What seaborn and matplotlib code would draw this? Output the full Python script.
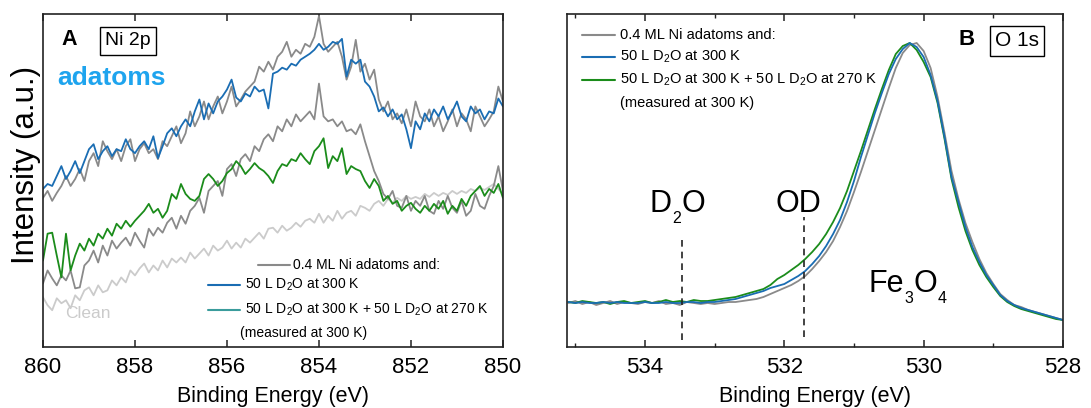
import numpy as np
import pandas as pd
import matplotlib
matplotlib.use("Agg")
import matplotlib.pyplot as plt
import seaborn as sns

# ---------------- Ni 2p region (panel A) ----------------
ni_energy = np.linspace(860.0, 850.0, 101)

ni_adatoms_top = [
    153, 160, 150, 158, 165, 175, 165, 172, 182, 170,
    190, 198, 185, 210, 200, 192, 202, 190, 205, 212,
    190, 202, 208, 198, 202, 192, 210, 205, 215, 225,
    208, 218, 240, 225, 235, 250, 232, 245, 255, 238,
    250, 265, 245, 252, 260, 265, 270, 285, 280, 290,
    282, 295, 300, 310, 295, 302, 298, 308, 305, 315,
    336, 308, 300, 305, 310, 295, 272, 285, 312, 280,
    288, 272, 282, 252, 240, 250, 232, 238, 228, 242,
    225, 250, 235, 230, 242, 225, 235, 220, 230, 242,
    225, 238, 232, 220, 245, 235, 225, 232, 240, 265,
    250,
]
ni_d2o_300 = [
    162, 167, 165, 175, 185, 172, 180, 190, 178, 190,
    202, 207, 192, 200, 205, 195, 202, 200, 212, 202,
    198, 205, 210, 202, 215, 193, 205, 218, 223, 215,
    225, 232, 225, 240, 252, 232, 248, 238, 250, 255,
    262, 272, 254, 250, 258, 255, 265, 260, 262, 243,
    278, 280, 284, 282, 288, 286, 292, 295, 298, 302,
    308, 302, 305, 310, 308, 313, 275, 292, 288, 292,
    270, 265, 255, 240, 244, 235, 242, 232, 237, 222,
    203, 230, 222, 238, 230, 242, 235, 245, 232, 240,
    250, 235, 230, 245, 238, 242, 232, 240, 238, 253,
    245,
]
ni_adatoms_low = [
    67, 80, 72, 65, 75, 70, 80, 62, 63, 85,
    90, 100, 88, 105, 95, 110, 102, 108, 113, 105,
    118, 110, 103, 122, 115, 123, 118, 128, 133, 122,
    135, 127, 140, 145, 153, 138, 160, 165, 170, 155,
    182, 187, 175, 192, 197, 190, 205, 200, 212, 217,
    210, 225, 220, 232, 225, 237, 230, 235, 240, 232,
    268, 235, 230, 232, 225, 230, 220, 222, 217, 227,
    210, 195, 180, 170, 157, 152, 160, 145, 143, 155,
    140, 150, 145, 155, 140, 137, 150, 142, 155, 143,
    138, 150, 135, 140, 157, 145, 142, 155, 165, 185,
    160,
]
ni_d2o_300_270 = [
    90, 117, 118, 95, 73, 117, 80, 95, 107, 100,
    112, 105, 117, 112, 122, 115, 127, 122, 130, 124,
    130, 135, 140, 147, 138, 142, 133, 140, 157, 152,
    167, 157, 152, 150, 155, 172, 177, 172, 165, 170,
    178, 182, 190, 185, 177, 182, 188, 183, 180, 175,
    168, 180, 187, 185, 192, 190, 198, 192, 187, 200,
    205, 213, 183, 195, 190, 203, 177, 185, 182, 180,
    170, 163, 172, 165, 150, 155, 147, 150, 140, 145,
    148, 142, 138, 145, 140, 147, 142, 150, 137, 145,
    140, 152, 145, 155, 160, 165, 155, 162, 158, 167,
    153,
]
ni_clean = [
    53, 45, 40, 52, 47, 50, 42, 55, 50, 60,
    63, 55, 65, 58, 60, 70, 65, 73, 68, 80,
    75, 82, 87, 78, 85, 80, 90, 83, 92, 88,
    93, 88, 98, 92, 97, 102, 95, 105, 100, 103,
    110, 102, 108, 103, 112, 108, 113, 118, 112, 122,
    123, 118, 125, 120, 123, 128, 124, 130, 132, 128,
    137, 128, 135, 130, 140, 132, 138, 140, 135, 145,
    143, 140, 147, 150, 145, 152, 148, 153, 150, 155,
    152, 154, 152, 157, 154, 158, 155, 158, 156, 160,
    157, 160, 158, 162, 160, 163, 161, 164, 167, 162,
    157,
]

# ---------------- O 1s region (panel B) ----------------
o_energy = np.linspace(535.1, 528.0, 72)

o_adatoms = [
    44, 46, 43, 45, 42, 44, 46, 43, 45, 44,
    43, 45, 44, 46, 43, 44, 42, 45, 44, 43,
    44, 43, 44, 45, 45, 46, 47, 48, 50, 53,
    56, 59, 62, 66, 71, 78, 86, 95, 106, 120,
    136, 155, 175, 196, 217, 238, 259, 279, 294, 302,
    304, 296, 279, 250, 214, 176, 148, 124, 105, 88,
    74, 63, 53, 47, 42, 40, 37, 35, 33, 31,
    29, 27,
]
o_d2o_300 = [
    45, 44, 45, 44, 44, 45, 44, 45, 44, 44,
    44, 45, 44, 44, 45, 44, 44, 45, 45, 44,
    45, 45, 46, 47, 48, 50, 52, 54, 56, 59,
    61, 63, 67, 71, 76, 83, 91, 101, 113, 127,
    145, 166, 190, 212, 234, 254, 273, 288, 298, 304,
    300, 290, 272, 246, 210, 170, 145, 120, 100, 85,
    72, 62, 52, 46, 42, 39, 37, 35, 33, 31,
    29, 27,
]
o_d2o_300_270 = [
    45, 44, 46, 45, 44, 45, 43, 45, 46, 44,
    45, 46, 44, 45, 47, 45, 46, 45, 47, 46,
    46, 47, 48, 49, 50, 52, 54, 56, 58, 62,
    68, 72, 77, 82, 88, 95, 103, 113, 125, 139,
    156, 176, 196, 217, 238, 258, 277, 293, 301, 304,
    297, 285, 270, 244, 208, 168, 140, 116, 97, 82,
    70, 60, 51, 45, 41, 38, 36, 34, 32, 30,
    28, 27,
]

# component markers in the O 1s panel
d2o_position = 533.47
od_position = 531.72

ni_ticks = [860, 858, 856, 854, 852, 850]
o_ticks = [534, 532, 530, 528]

legend_labels = [
    "0.4 ML Ni adatoms and:",
    "50 L D$_2$O at 300 K",
    "50 L D$_2$O at 300 K + 50 L D$_2$O at 270 K",
    "(measured at 300 K)",
]

# ---------------- styling ----------------
sns.set_style("ticks")
plt.rcParams["font.family"] = ["Liberation Sans", "DejaVu Sans"]
plt.rcParams["mathtext.fontset"] = "custom"
plt.rcParams["mathtext.rm"] = "Liberation Sans"
plt.rcParams["mathtext.default"] = "regular"
plt.rcParams["text.color"] = "black"
plt.rcParams["axes.labelcolor"] = "black"
plt.rcParams["xtick.color"] = "black"

c_gray = "#8a8a8a"
c_blue = "#1a6db3"
c_green = "#1b8c1b"
c_teal = "#3a9c9c"
c_clean = "#cbcbcb"
lw = 1.3


def chem_label(ax, x, y, parts, size, sub_size, sub_drop):
    """Write a formula piece by piece, with small, lowered subscripts."""
    first = ax.text(x, y, parts[0][0], fontsize=size, ha="left", va="baseline")
    prev = first
    for txt, is_sub in parts[1:]:
        prev = ax.annotate(txt, xy=(1, y), xycoords=(prev, "data"),
                           xytext=(0.3, -sub_drop if is_sub else 0),
                           textcoords="offset points",
                           fontsize=sub_size if is_sub else size,
                           ha="left", va="baseline")
    return first


fig = plt.figure(figsize=(10.91, 4.08), dpi=100)
axA = fig.add_axes([0.0394, 0.1495, 0.4216, 0.8162])
axB = fig.add_axes([0.5197, 0.1495, 0.4546, 0.8162])

ni = pd.DataFrame({
    "E": ni_energy,
    "clean": ni_clean,
    "ad_low": ni_adatoms_low,
    "d2o2": ni_d2o_300_270,
    "ad_top": ni_adatoms_top,
    "d2o": ni_d2o_300,
})
for col, color in [("clean", c_clean), ("ad_low", c_gray), ("d2o2", c_green),
                   ("ad_top", c_gray), ("d2o", c_blue)]:
    sns.lineplot(data=ni, x="E", y=col, ax=axA, color=color, lw=lw)

ox = pd.DataFrame({
    "E": o_energy,
    "ad": o_adatoms,
    "d2o": o_d2o_300,
    "d2o2": o_d2o_300_270,
})
for col, color in [("ad", c_gray), ("d2o2", c_green), ("d2o", c_blue)]:
    sns.lineplot(data=ox, x="E", y=col, ax=axB, color=color, lw=lw)

for ax in (axA, axB):
    for sp in ax.spines.values():
        sp.set_visible(True)
        sp.set_color("#222222")
        sp.set_linewidth(1.2)
    ax.set_yticks([])
    ax.tick_params(axis="x", which="both", direction="in", top=True, bottom=True,
                   labelsize=16, pad=7, color="#222222")
    ax.tick_params(axis="x", which="major", length=5, width=1.1)
    ax.tick_params(axis="x", which="minor", length=3, width=1.0)
    ax.set_xlabel("Binding Energy (eV)", fontsize=15.5)
    ax.xaxis.set_label_coords(0.5, -0.118)

axA.set_xlim(860, 850)
axA.set_ylim(3, 338)
axA.set_xticks(ni_ticks)
axA.set_xticks(np.arange(859, 850, 2), minor=True)
axA.set_ylabel("Intensity (a.u.)", fontsize=22.5)
axA.yaxis.set_label_coords(-0.004, 0.547)

axB.set_xlim(535.12, 528)
axB.set_ylim(0, 333)
axB.set_xticks(o_ticks)
axB.set_xticks([535, 533, 531, 529], minor=True)
axB.set_ylabel("")

# ---- panel A annotations ----
axA.text(0.057, 0.922, "A", transform=axA.transAxes, fontsize=15.5, fontweight="bold",
         ha="center", va="center")
axA.text(0.185, 0.919, "Ni 2p", transform=axA.transAxes, fontsize=14, ha="center", va="center",
         bbox=dict(boxstyle="square,pad=0.28", fc="white", ec="black", lw=1.0))
axA.text(0.148, 0.808, "adatoms", transform=axA.transAxes, fontsize=19, fontweight="bold",
         color="#1ea4ee", ha="center", va="center")
axA.text(0.098, 0.102, "Clean", transform=axA.transAxes, fontsize=12.5, color=c_clean,
         ha="center", va="center")

legA = [
    (0.467, 0.537, 0.543, 0.246, c_gray, legend_labels[0]),
    (0.359, 0.428, 0.439, 0.186, c_blue, legend_labels[1]),
    (0.359, 0.428, 0.439, 0.111, c_teal, legend_labels[2]),
]
for x0, x1, xt, yy, col, lab in legA:
    axA.plot([x0, x1], [yy, yy], transform=axA.transAxes, color=col, lw=1.5)
    axA.text(xt, yy, lab, transform=axA.transAxes, fontsize=10, ha="left", va="center")
axA.text(0.428, 0.042, legend_labels[3], transform=axA.transAxes, fontsize=10,
         ha="left", va="center")

# ---- panel B annotations ----
axB.text(0.806, 0.922, "B", transform=axB.transAxes, fontsize=16, fontweight="bold",
         ha="center", va="center")
axB.text(0.907, 0.919, "O 1s", transform=axB.transAxes, fontsize=15, ha="center", va="center",
         bbox=dict(boxstyle="square,pad=0.25", fc="white", ec="black", lw=1.0))

legB = [
    (0.937, c_gray, legend_labels[0]),
    (0.871, c_blue, legend_labels[1]),
    (0.802, c_green, legend_labels[2]),
]
for yy, col, lab in legB:
    axB.plot([0.030, 0.097], [yy, yy], transform=axB.transAxes, color=col, lw=1.5)
    axB.text(0.107, yy, lab, transform=axB.transAxes, fontsize=10.5, ha="left", va="center")
axB.text(0.107, 0.733, legend_labels[3], transform=axB.transAxes, fontsize=10.5,
         ha="left", va="center")

axB.vlines([d2o_position], 7, 107, colors="#222222", linestyles=(0, (4, 3)), lw=1.2)
axB.vlines([od_position], 10, 130, colors="#222222", linestyles=(0, (4, 3)), lw=1.2)
chem_label(axB, 533.93, 135, [("D", False), ("2", True), ("O", False)], 22, 11.5, 8)
axB.text(532.13, 135, "OD", fontsize=22, ha="left", va="baseline")
chem_label(axB, 530.79, 55, [("Fe", False), ("3", True), ("O", False), ("4", True)],
           22, 11.5, 8)

fig.savefig("out.png", dpi=100)
